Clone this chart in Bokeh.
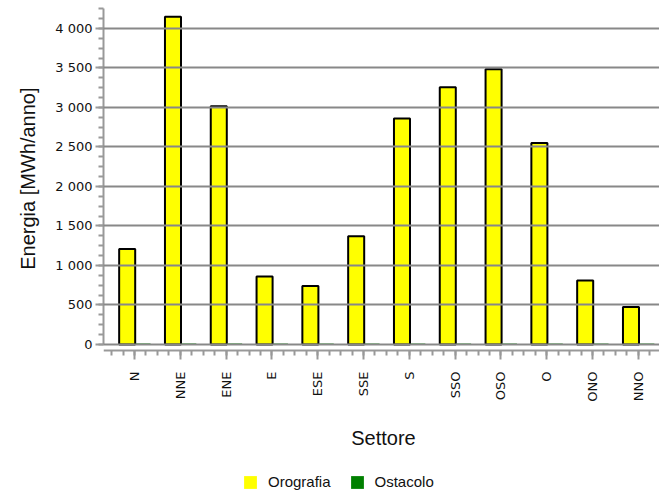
import math
import numpy as np
from bokeh.plotting import figure
from bokeh.models import (ColumnDataSource, FixedTicker, Range1d, Legend, LegendItem, LinearAxis, Title)
from bokeh.transform import dodge
from bokeh.embed import file_html
from bokeh.resources import INLINE

# ---- data ----
settori = ["N", "NNE", "ENE", "E", "ESE", "SSE", "S", "SSO", "OSO", "O", "ONO", "NNO"]
orografia = [1210, 4150, 3015, 860, 740, 1370, 2860, 3255, 3485, 2550, 810, 475]
ostacolo = [12, 12, 12, 12, 12, 12, 12, 12, 12, 12, 12, 12]
y_ticks = [0, 500, 1000, 1500, 2000, 2500, 3000, 3500, 4000]
y_tick_labels = ["0", "500", "1 000", "1 500", "2 000", "2 500", "3 000", "3 500", "4 000"]

idx = list(range(len(settori)))
src = ColumnDataSource(dict(x=idx, oro=orografia, ost=ostacolo))

p = figure(frame_width=560, frame_height=482, output_backend="svg", toolbar_location=None,
           x_range=Range1d(-0.677, 11.55), y_range=Range1d(-1848, 4253),
           x_axis_location=None,
           min_border_left=99, min_border_right=0, min_border_top=8,
           min_border_bottom=0, background_fill_color="white",
           border_fill_color="white")
p.outline_line_color = None

r1 = p.vbar(x=dodge("x", -0.16, range=p.x_range), top="oro", width=0.35, source=src,
            fill_color="#FFFF00", line_color=None)
p.vbar(x=dodge("x", -0.16, range=p.x_range), top="oro", width=0.35, source=src,
       fill_color=None, line_color="black", line_width=2)
r2 = p.vbar(x=dodge("x", 0.19, range=p.x_range), top="ost", width=0.32, source=src,
            fill_color="#008000", line_color=None)

# axes
xaxis = LinearAxis(fixed_location=-76, axis_label="Settore")
p.add_layout(xaxis, "below")
xaxis.ticker = FixedTicker(ticks=idx, minor_ticks=list(np.arange(-0.5, 11.51, 0.25)))
xaxis.major_label_overrides = {i: s for i, s in zip(idx, settori)}
xaxis.major_label_orientation = math.pi / 2
yaxis = p.yaxis[0]
yaxis.ticker = FixedTicker(ticks=y_ticks, minor_ticks=list(np.arange(0, 4251, 125)))
yaxis.major_label_overrides = {t: l for t, l in zip(y_ticks, y_tick_labels)}
yaxis.bounds = (0, 4253)

for ax in (xaxis, yaxis):
    ax.axis_line_color = "#999999"
    ax.axis_line_width = 2
    ax.major_tick_line_color = "#999999"
    ax.minor_tick_line_color = "#999999"
    ax.major_tick_line_width = 2
    ax.minor_tick_line_width = 2
    ax.major_tick_in = 0
    ax.minor_tick_in = 0
    ax.major_label_text_font = "DejaVu Sans"
    ax.major_label_text_font_size = "13px"
    ax.major_label_text_color = "#111111"
    ax.axis_label_text_font = "Liberation Sans"
    ax.axis_label_text_font_size = "20px"
    ax.axis_label_text_font_style = "normal"
    ax.axis_label_text_color = "#111111"

xaxis.major_tick_out = 9
xaxis.minor_tick_out = 5
xaxis.major_label_standoff = 12
xaxis.axis_label_standoff = 22
yaxis.major_tick_out = 8
yaxis.minor_tick_out = 5
yaxis.major_label_standoff = 3

# y-axis label as a side title, aligned to the upper (data) part of the frame
ytitle = Title(text="Energia [MWh/anno]", align="right", offset=79, standoff=28,
               text_font="Liberation Sans", text_font_size="20px",
               text_font_style="normal", text_color="#111111")
p.add_layout(ytitle, "left")

p.xgrid.visible = False
p.ygrid.ticker = FixedTicker(ticks=y_ticks)
p.ygrid.grid_line_color = "#888888"
p.ygrid.grid_line_width = 2
p.ygrid.level = "annotation"

legend = Legend(items=[LegendItem(label="Orografia", renderers=[r1]),
                       LegendItem(label="Ostacolo", renderers=[r2])],
                orientation="horizontal", location=(139, 0),
                border_line_color=None, background_fill_alpha=0,
                label_text_font="Liberation Sans", label_text_font_size="15px",
                label_text_color="#111111", label_height=16,
                glyph_width=16, glyph_height=16, label_standoff=10, spacing=18,
                margin=0, padding=1)
p.add_layout(legend, "center")

open("out.html", "w").write(file_html(p, INLINE))
